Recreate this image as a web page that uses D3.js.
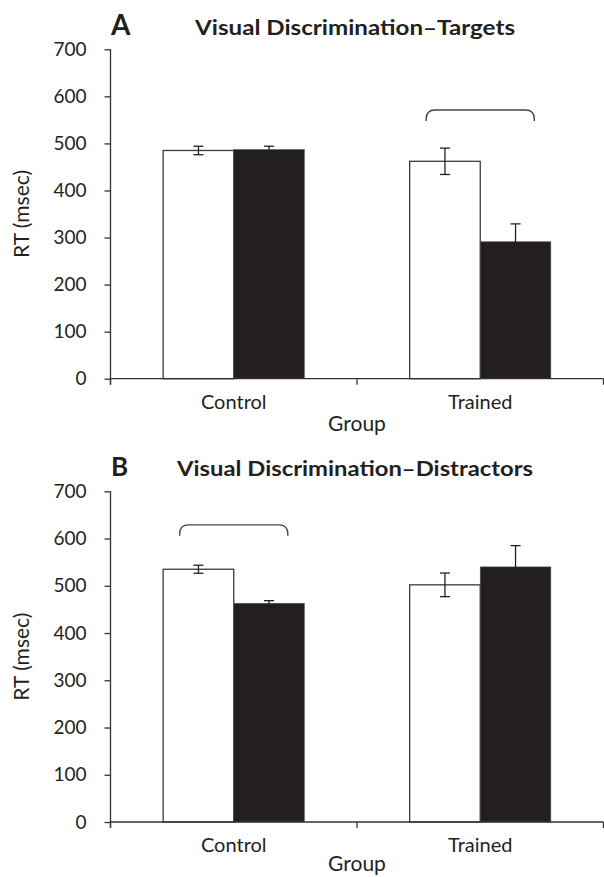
<!DOCTYPE html>
<html>
<head>
<meta charset="utf-8">
<script src="https://cdn.jsdelivr.net/npm/d3@7"></script>
<style>
  html, body { margin: 0; padding: 0; background: #fff; }
  svg { display: block; }
  text { font-family: Lato, "Open Sans", sans-serif; fill: #231f20; }
</style>
</head>
<body>
<svg id="chart" width="604" height="877"></svg>
<script>
// ---------------- DATA ----------------
const groups = ["Control", "Trained"];
const series = ["Condition 1", "Condition 2"]; // white bar, black bar
const yTickValues = [0, 100, 200, 300, 400, 500, 600, 700];

const targetsMeans = [[485, 487], [462, 291]];
const targetsErrors = [[9, 7], [28, 38]];

const distractorsMeans = [[535, 463], [502, 540]];
const distractorsErrors = [[8.5, 5.5], [25, 45]];

const panelLetters = ["A", "B"];
const panelTitles = ["Visual Discrimination\u2013Targets", "Visual Discrimination\u2013Distractors"];
const bracketGroups = ["Trained", "Control"];
const bracketLevels = [571, 629];
const yAxisLabel = "RT (msec)";
const xAxisLabel = "Group";

// ---------------- LAYOUT ----------------
const panels = [
  { means: targetsMeans, errors: targetsErrors, top: 49.3, bottom: 378.7, left: 110.5, right: 603.5,
    titleY: 35, letterSize: 28, titleLen: 320, groupDy: 52 },
  { means: distractorsMeans, errors: distractorsErrors, top: 491.3, bottom: 822, left: 110.5, right: 603.5,
    titleY: 475.5, letterSize: 26, titleLen: 356, groupDy: 49 }
];

const ink = "#231f20";
const axisColor = "#333";
const svg = d3.select("#chart");

panels.forEach((p, i) => {
  const g = svg.append("g");
  const x0 = d3.scaleBand().domain(groups).range([p.left, p.right]).paddingInner(0).paddingOuter(0);
  const x1 = d3.scaleBand().domain(series).range([0, x0.bandwidth()]).paddingInner(0).paddingOuter(0.746);
  const y = d3.scaleLinear().domain([0, 700]).range([p.bottom, p.top]);

  // bars
  const rows = [];
  groups.forEach((grp, gi) => series.forEach((s, si) => {
    rows.push({ grp, s, si, m: p.means[gi][si], e: p.errors[gi][si] });
  }));

  g.selectAll("rect.bar").data(rows).join("rect")
    .attr("class", "bar")
    .attr("x", d => x0(d.grp) + x1(d.s))
    .attr("y", d => y(d.m))
    .attr("width", x1.bandwidth())
    .attr("height", d => y(0) - y(d.m))
    .attr("fill", d => d.si === 0 ? "#fff" : ink)
    .attr("stroke", d => d.si === 0 ? "#3a3a3a" : "#555")
    .attr("stroke-width", d => d.si === 0 ? 1.3 : 0.6);

  // error bars
  const capW = 5;
  const eb = g.selectAll("g.err").data(rows).join("g").attr("class", "err")
    .attr("stroke", ink).attr("stroke-width", 1.3);
  eb.append("line")
    .attr("x1", d => x0(d.grp) + x1(d.s) + x1.bandwidth() / 2)
    .attr("x2", d => x0(d.grp) + x1(d.s) + x1.bandwidth() / 2)
    .attr("y1", d => y(d.m + d.e)).attr("y2", d => y(d.m - d.e));
  [1, -1].forEach(sign => {
    eb.append("line")
      .attr("x1", d => x0(d.grp) + x1(d.s) + x1.bandwidth() / 2 - capW)
      .attr("x2", d => x0(d.grp) + x1(d.s) + x1.bandwidth() / 2 + capW)
      .attr("y1", d => y(d.m + sign * d.e)).attr("y2", d => y(d.m + sign * d.e));
  });

  // significance bracket
  const bg = bracketGroups[i];
  const bx1 = x0(bg) + x1(series[0]) + 16.5;
  const bx2 = x0(bg) + x1(series[1]) + x1.bandwidth() - 16.5;
  const by = y(bracketLevels[i]);
  const legs = 11, r = 9;
  g.append("path")
    .attr("d", `M${bx1},${by + legs} V${by + r} Q${bx1},${by} ${bx1 + r},${by} H${bx2 - r} Q${bx2},${by} ${bx2},${by + r} V${by + legs}`)
    .attr("fill", "none").attr("stroke", "#444").attr("stroke-width", 1.4);

  // y axis
  const ya = g.append("g").attr("transform", `translate(${p.left},0)`)
    .call(d3.axisLeft(y).tickValues(yTickValues).tickSize(6).tickSizeOuter(0).tickPadding(18));
  ya.select(".domain").attr("stroke", axisColor).attr("stroke-width", 1.3)
    .attr("d", `M0,${p.top} V${p.bottom + 6}`);
  ya.selectAll(".tick line").attr("stroke", axisColor).attr("stroke-width", 1.3);
  ya.selectAll(".tick text").style("font-size", "19px").attr("fill", ink);

  // x axis
  const xa = g.append("g").attr("transform", `translate(0,${p.bottom})`)
    .call(d3.axisBottom(x0).tickSize(0).tickPadding(16));
  xa.select(".domain").remove();
  xa.selectAll(".tick text").style("font-size", "20px").attr("fill", ink);
  xa.append("line").attr("x1", p.left).attr("x2", p.right).attr("y1", 0).attr("y2", 0)
    .attr("stroke", axisColor).attr("stroke-width", 1.3);
  const bounds = [p.left, x0(groups[1]), p.right];
  xa.selectAll("line.bt").data(bounds).join("line").attr("class", "bt")
    .attr("x1", d => d).attr("x2", d => d).attr("y1", 0).attr("y2", 6)
    .attr("stroke", axisColor).attr("stroke-width", 1.3);

  // axis titles
  g.append("text").attr("x", (p.left + p.right) / 2).attr("y", p.bottom + p.groupDy)
    .attr("text-anchor", "middle").style("font-size", "21px").text(xAxisLabel);
  g.append("text")
    .attr("transform", `translate(29,${(p.top + p.bottom) / 2}) rotate(-90)`)
    .attr("text-anchor", "middle").style("font-size", "21px").text(yAxisLabel);

  // titles
  g.append("text").attr("x", 111).attr("y", p.titleY)
    .style("font-size", p.letterSize + "px").style("font-weight", 700).text(panelLetters[i]);
  g.append("text").attr("x", (p.left + p.right) / 2 - 2).attr("y", p.titleY)
    .attr("text-anchor", "middle").style("font-size", "20px").style("font-weight", 700)
    .attr("textLength", p.titleLen).attr("lengthAdjust", "spacingAndGlyphs")
    .text(panelTitles[i]);
});
</script>
</body>
</html>
